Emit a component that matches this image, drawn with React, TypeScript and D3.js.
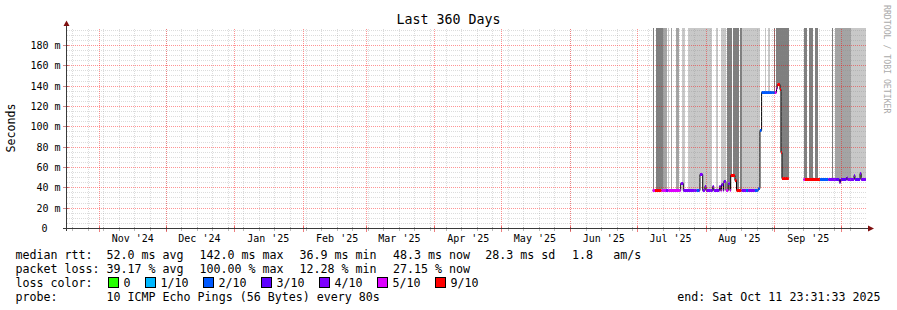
import React from "react";
import * as d3 from "d3";

const W = 897;
const H = 310;

// time window of the graph
const END = new Date(Date.UTC(2025, 9, 11, 23, 31, 33));
const START = new Date(END.getTime() - 360 * 864e5);
// data days below are counted from 2025-07-01 00:00 UTC
const DATA_BASE = Date.UTC(2025, 6, 1);

const yMax = 196.7;
const yMajorTicks = [0, 20, 40, 60, 80, 100, 120, 140, 160, 180];

// smoke (rtt spread) bands: start day, end day, shade level (1 light .. 3 dark)
const smokeFrom = [7.02, 8.37, 11.52, 13.95, 15.12, 17.46, 20.07, 22.77, 31.5, 35.37, 37.71, 38.61, 40.32, 43.11, 46.26, 47.07, 54.5, 57.51, 59.0, 61.38, 62.46, 74.88, 77.22, 80.01, 87.48, 89.01, 96.21];
const smokeTo = [7.56, 11.25, 13.41, 14.49, 15.57, 18.81, 21.51, 31.05, 33.48, 36.54, 38.34, 39.96, 42.57, 45.81, 47.07, 54.5, 55.26, 57.96, 59.63, 61.83, 68.31, 76.32, 79.11, 81.54, 87.93, 96.21, 102.96];
const smokeShade = [3, 3, 2, 1, 2, 2, 1, 1, 1, 1, 1, 1, 3, 3, 3, 1, 1, 1, 1, 3, 3, 3, 3, 3, 3, 2, 1];

// median rtt (ms) as steps: day, value, loss bucket index
const medianDay = [6.97, 8.0, 11.0, 12.96, 14.0, 19.6, 20.75, 26.8, 27.95, 28.26, 29.5, 30.5, 31.0, 34.0, 34.5, 37.0, 37.6, 38.0, 38.75, 39.0, 39.96, 41.0, 41.76, 42.1, 44.0, 44.7, 47.0, 49.0, 49.9, 53.0, 54.5, 55.26, 56.0, 62.0, 62.7, 63.05, 64.26, 64.7, 65.15, 68.3, 74.8, 75.5, 82.3, 86.0, 89.5, 91.0, 91.5, 94.2, 94.6, 97.6, 98.0, 100.3, 100.8, 102.96];
const medianMs = [37.6, 37.6, 37.6, 37.6, 37.6, 44.4, 37.6, 37.6, 37.6, 53.4, 37.6, 42, 37.6, 42, 37.6, 42, 37.6, 44, 37.6, 47, 37.6, 45, 37.6, 53, 47.5, 37.6, 37.6, 37.6, 37.6, 37.6, 40, 97, 134.5, 134.5, 138, 142, 137, 75.5, 49.3, NaN, 48.7, 48.7, 48.7, 48.7, 48.7, 46, 48.7, 50.5, 48.7, 52.5, 48.7, 54.8, 48.7, 48.7];
const medianLoss = [5, 6, 5, 4, 5, 4, 4, 2, 4, 4, 4, 4, 4, 4, 4, 4, 5, 4, 4, 4, 5, 4, 5, 6, 6, 6, 4, 2, 4, 2, 2, 2, 2, 5, 5, 6, 6, 6, 6, 0, 5, 6, 2, 4, 3, 4, 3, 4, 4, 4, 3, 4, 4, 4];

const lossLabels = ["0", "1/10", "2/10", "3/10", "4/10", "5/10", "9/10"];
const lossColors = ["#26ff00", "#00b8ff", "#0059ff", "#5e00ff", "#7e00ff", "#dd00ff", "#ff0000"];
const shadeColors = ["none", "#c8c8c8", "#a4a4a4", "#7f7f7f"];

const rttStats = ["52.0 ms avg", "142.0 ms max", "36.9 ms min", "48.3 ms now", "28.3 ms sd", "1.8", "am/s"];
const lossStats = ["39.17 % avg", "100.00 % max", "12.28 % min", "27.15 % now"];
const probeText = "10 ICMP Echo Pings (56 Bytes) every 80s";
const endText = "end: Sat Oct 11 23:31:33 2025";
const titleText = "Last 360 Days";

const statX = [106.5, 199.5, 299.5, 393, 485.3, 572, 613.3];
const FONT = "'DejaVu Sans Mono', monospace";
const CW = 7.0; // legend char advance

const x = d3.scaleTime().domain([START, END]).range([66, 866]);
const y = d3.scaleLinear().domain([0, yMax]).range([228.5, 28.5]);
const dayDate = (d: number) => new Date(DATA_BASE + d * 864e5);
const xd = (d: number) => x(dayDate(d));
const snap = (v: number) => Math.floor(v) + 0.5;

function medianAt(d: number) {
  let v = NaN;
  for (let i = 0; i < medianDay.length; i++) {
    if (medianDay[i] <= d + 1e-9) v = medianMs[i];
    else break;
  }
  return v;
}

export default function App() {
  const top = y(yMax);
  const bottom = y(0);
  const left = 66.5;
  const right = 866;

  const minorY = d3.range(5, yMax, 5).filter((v) => v % 20 !== 0);
  const majorY = yMajorTicks.filter((v) => v > 0);
  const weeks = d3.utcSunday.range(START, END);
  const months = d3.utcMonth.range(START, END);
  const monthLabels = d3.utcMonth
    .range(d3.utcMonth.floor(START), END)
    .map((m) => new Date(Date.UTC(m.getUTCFullYear(), m.getUTCMonth(), 16)))
    .filter((d) => x(d) - 22 > 66 && x(d) + 22 < 866);
  const fmtMonth = d3.utcFormat("%b '%y");

  const smokeRects: JSX.Element[] = [];
  smokeFrom.forEach((f, j) => {
    const t = smokeTo[j];
    const pts = [f, ...medianDay.filter((d) => d > f && d < t), t];
    for (let k = 0; k < pts.length - 1; k++) {
      const m = medianAt(pts[k]);
      if (isNaN(m)) continue;
      const x0 = Math.round(xd(pts[k]));
      const x1 = Math.max(x0 + 1, Math.round(xd(pts[k + 1])));
      const yb = Math.round(y(m)) - 1;
      smokeRects.push(
        <rect key={`s${j}-${k}`} x={x0} y={Math.floor(top)} width={x1 - x0} height={Math.max(0, yb - Math.floor(top))} fill={shadeColors[smokeShade[j]]} />
      );
    }
  });

  const pts: [number, number][] = medianDay.map((d, i) => [xd(d), y(medianMs[i])]);
  const line = d3
    .line<[number, number]>()
    .defined((p) => !isNaN(p[1]))
    .x((p) => p[0])
    .y((p) => Math.round(p[1]) + 0.5)
    .curve(d3.curveStepAfter);
  const medianPath = line(pts) || "";

  const colorSegs: JSX.Element[] = [];
  for (let i = 0; i < medianDay.length - 1; i++) {
    if (isNaN(medianMs[i])) continue;
    const yy = Math.round(y(medianMs[i])) + 0.5;
    colorSegs.push(
      <line key={`c${i}`} x1={xd(medianDay[i])} x2={xd(medianDay[i + 1])} y1={yy} y2={yy} stroke={lossColors[medianLoss[i]]} strokeWidth={3} />
    );
  }

  const boxX: number[] = [];
  let bx = 108.5;
  lossLabels.forEach((l) => {
    boxX.push(bx);
    bx = bx + 15 + l.length * CW + 15;
  });

  const rowY = [258.5, 272.5, 286.5, 300.5];
  const minorGrid = "rgba(140,140,140,0.3)";
  const majorGrid = "rgba(255,0,0,0.42)";

  return (
    <svg width={W} height={H} style={{ position: "absolute", left: 0, top: 0, display: "block", background: "#fff" }} fontFamily={FONT}>
      <rect x={0} y={0} width={W} height={H} fill="#ffffff" />
      <g shapeRendering="crispEdges">{smokeRects}</g>
      <path d={medianPath} fill="none" stroke="#000" strokeWidth={1} />
      <g>{colorSegs}</g>

      <g strokeDasharray="1,1" strokeWidth={1} shapeRendering="crispEdges">
        {minorY.map((v) => (
          <line key={`my${v}`} x1={left} x2={right} y1={snap(y(v))} y2={snap(y(v))} stroke={minorGrid} />
        ))}
        {weeks.map((w) => (
          <line key={`wk${+w}`} x1={snap(x(w))} x2={snap(x(w))} y1={top} y2={bottom} stroke={minorGrid} />
        ))}
        {majorY.map((v) => (
          <line key={`My${v}`} x1={left} x2={right} y1={snap(y(v))} y2={snap(y(v))} stroke={majorGrid} />
        ))}
        {months.map((m) => (
          <line key={`mo${+m}`} x1={snap(x(m))} x2={snap(x(m))} y1={top} y2={bottom} stroke={majorGrid} />
        ))}
      </g>

      <g shapeRendering="crispEdges">
        {weeks.map((w) => (
          <line key={`tw${+w}`} x1={snap(x(w))} x2={snap(x(w))} y1={bottom - 2} y2={bottom + 2} stroke="rgba(120,120,120,0.5)" />
        ))}
        {months.map((m) => (
          <line key={`tm${+m}`} x1={snap(x(m))} x2={snap(x(m))} y1={bottom - 3} y2={bottom + 3} stroke="rgba(220,0,0,0.5)" />
        ))}
        {yMajorTicks.map((v) => (
          <line key={`ty${v}`} x1={63} x2={69} y1={snap(y(v))} y2={snap(y(v))} stroke="rgba(150,0,0,0.45)" />
        ))}
      </g>

      <g shapeRendering="crispEdges" stroke="#3a3a3a">
        <line x1={63} x2={869} y1={bottom} y2={bottom} />
        <line x1={left} x2={left} y1={231} y2={26} />
      </g>
      <polygon points={`${left - 3},26 ${left + 3},26 ${left},20.5`} fill="#7f1010" />
      <polygon points={`868,225.5 868,231.5 874,228.5`} fill="#7f1010" />

      <g fontSize={10} fill="#000">
        {yMajorTicks.map((v) => (
          <text key={`yl${v}`} x={v === 0 ? 47.5 : 60.5} y={snap(y(v)) + 3.6} textAnchor="end">
            {v === 0 ? "0" : `${v} m`}
          </text>
        ))}
        {monthLabels.map((d) => (
          <text key={`xl${+d}`} x={x(d)} y={241.5} textAnchor="middle">
            {fmtMonth(d)}
          </text>
        ))}
      </g>

      <text x={448.5} y={24} fontSize={13.3} textAnchor="middle" fill="#000">
        {titleText}
      </text>
      <text transform="translate(15,128) rotate(-90)" fontSize={11.65} textAnchor="middle" fill="#000">
        Seconds
      </text>
      <text transform="translate(884,5) rotate(90)" fontSize={8.2} fill="#aaaaaa">
        RRDTOOL / TOBI OETIKER
      </text>

      <g fontSize={11.65} fill="#000">
        <text x={15.5} y={rowY[0]}>median rtt:</text>
        {rttStats.map((s, i) => (
          <text key={`r${i}`} x={statX[i]} y={rowY[0]}>{s}</text>
        ))}
        <text x={15.5} y={rowY[1]}>packet loss:</text>
        {lossStats.map((s, i) => (
          <text key={`l${i}`} x={statX[i]} y={rowY[1]}>{s}</text>
        ))}
        <text x={15.5} y={rowY[2]}>loss color:</text>
        {lossLabels.map((l, i) => (
          <g key={`lb${i}`}>
            <rect x={boxX[i]} y={277.5} width={10} height={10} fill={lossColors[i]} stroke="#000" strokeWidth={1} shapeRendering="crispEdges" />
            <text x={boxX[i] + 15} y={rowY[2]}>{l}</text>
          </g>
        ))}
        <text x={15.5} y={rowY[3]}>probe:</text>
        <text x={statX[0]} y={rowY[3]}>{probeText}</text>
        <text x={880.5} y={rowY[3]} textAnchor="end">{endText}</text>
      </g>
    </svg>
  );
}
